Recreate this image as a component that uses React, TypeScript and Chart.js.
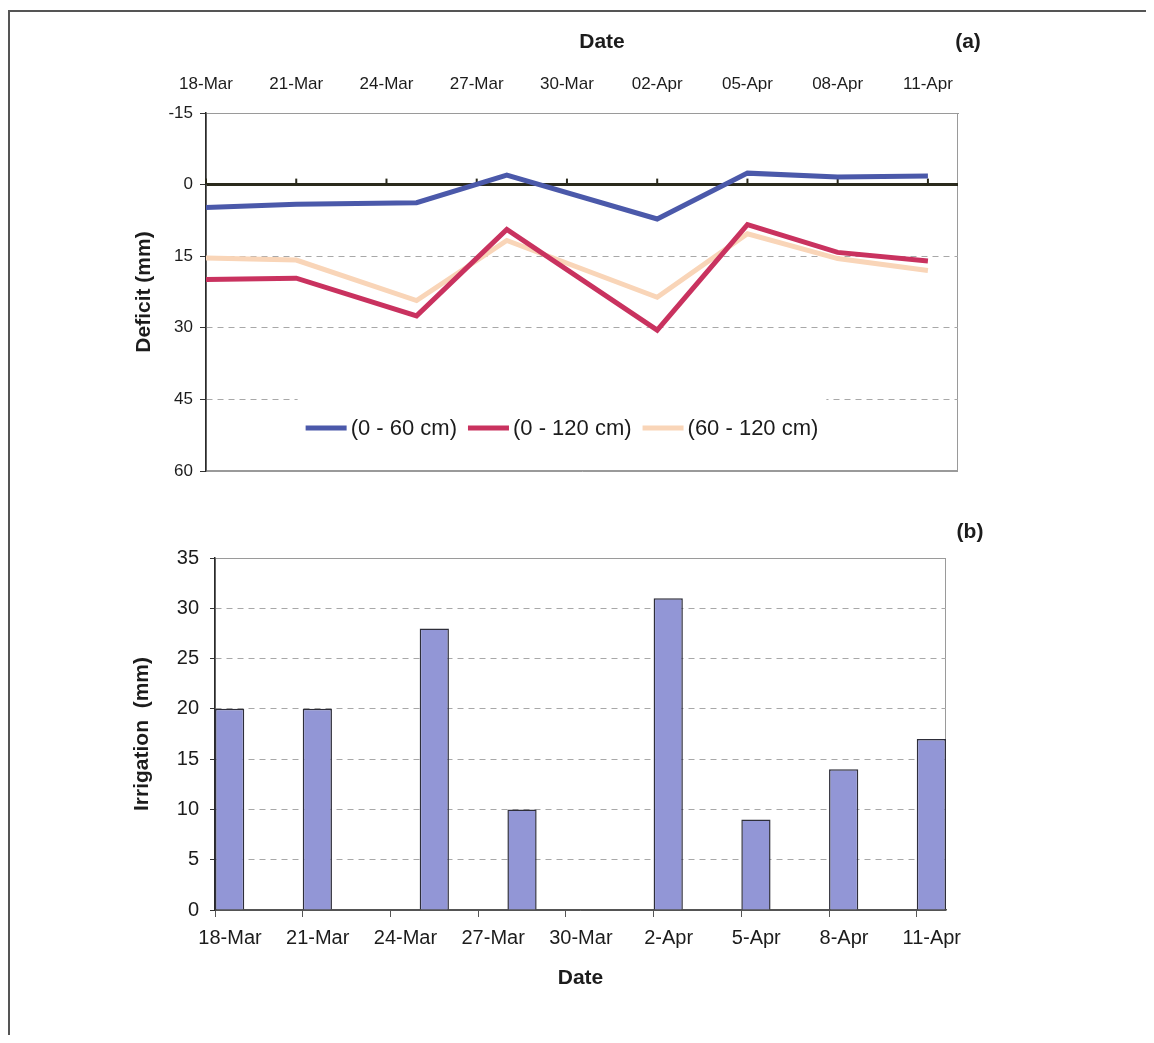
import React, { useEffect, useRef } from 'react';
import { Chart, registerables } from 'chart.js';

Chart.register(...registerables);

// ---------- data ----------
const axisStart = '18-Mar';
const axisEnd = '12-Apr';
const tickStepDays = 3;

const topTickLabels = ['18-Mar', '21-Mar', '24-Mar', '27-Mar', '30-Mar', '02-Apr', '05-Apr', '08-Apr', '11-Apr'];
const bottomTickLabels = ['18-Mar', '21-Mar', '24-Mar', '27-Mar', '30-Mar', '2-Apr', '5-Apr', '8-Apr', '11-Apr'];

const pointDates = ['18-Mar', '21-Mar', '25-Mar', '28-Mar', '02-Apr', '05-Apr', '08-Apr', '11-Apr'];
const deficit0to60 = [4.8, 4.1, 3.8, -2.0, 7.2, -2.4, -1.6, -1.8];
const deficit0to120 = [19.9, 19.6, 27.5, 9.4, 30.5, 8.4, 14.2, 16.0];
const deficit60to120 = [15.4, 15.8, 24.3, 11.7, 23.6, 10.3, 15.5, 18.0];

const seriesLabels = ['(0 - 60 cm)', '(0 - 120 cm)', '(60 - 120 cm)'];

const irrigationDates = ['18-Mar', '21-Mar', '25-Mar', '28-Mar', '02-Apr', '05-Apr', '08-Apr', '11-Apr'];
const irrigation = [20, 20, 28, 10, 31, 9, 14, 17];

// ---------- helpers ----------
const MONTHS = ['Jan', 'Feb', 'Mar', 'Apr', 'May', 'Jun', 'Jul', 'Aug', 'Sep', 'Oct', 'Nov', 'Dec'];
function toUTC(label: string) {
  const [d, m] = label.split('-');
  return Date.UTC(2001, MONTHS.indexOf(m), parseInt(d, 10));
}
function dayOffset(label: string) {
  return Math.round((toUTC(label) - toUTC(axisStart)) / 86400000);
}
function labelMap(labels: string[]) {
  const m: Record<number, string> = {};
  labels.forEach((l) => (m[dayOffset(l)] = l));
  return m;
}
const topLabelByDay = labelMap(topTickLabels);
const bottomLabelByDay = labelMap(bottomTickLabels);

const FONT = "'Liberation Sans', Arial, Helvetica, sans-serif";
const TEXT = '#1c1c1c';
const W = 1138;

// ---------- plugins ----------
const framePlugin = {
  id: 'frame',
  beforeDraw(chart: any, _a: any, opts: any) {
    const { ctx, chartArea: a } = chart;
    ctx.save();
    ctx.strokeStyle = opts.color || '#999';
    ctx.lineWidth = 1;
    ctx.strokeRect(a.left + 0.5, a.top + 0.5, a.right - a.left - 1, a.bottom - a.top - 1);
    ctx.restore();
  },
};

const zeroTicksPlugin = {
  id: 'zeroTicks',
  beforeDatasetsDraw(chart: any) {
    const { ctx } = chart;
    const xs = chart.scales.x;
    const ys = chart.scales.y;
    const y0 = ys.getPixelForValue(0);
    ctx.save();
    ctx.strokeStyle = '#2a2a1c';
    ctx.lineWidth = 2;
    xs.ticks.forEach((t: any) => {
      const px = xs.getPixelForValue(t.value);
      ctx.beginPath();
      ctx.moveTo(px, y0);
      ctx.lineTo(px, y0 - 6);
      ctx.stroke();
    });
    ctx.restore();
  },
};

const insideLegendPlugin = {
  id: 'insideLegend',
  beforeDatasetsDraw(chart: any, _a: any, o: any) {
    const { ctx, chartArea: a } = chart;
    ctx.save();
    ctx.font = o.font;
    const items = chart.data.datasets.map((ds: any) => ({
      label: ds.label,
      color: ds.borderColor,
      w: ctx.measureText(ds.label).width,
    }));
    const total =
      items.reduce((s: number, it: any) => s + o.sample + o.gap + it.w, 0) + o.spacing * (items.length - 1);
    const cx = (a.left + a.right) / 2 + o.offsetX;
    const cy = a.bottom - o.offsetBottom;
    let x = cx - total / 2;
    ctx.fillStyle = '#ffffff';
    ctx.fillRect(x - o.pad, cy - o.halfHeight, total + 2 * o.pad, 2 * o.halfHeight);
    ctx.textBaseline = 'middle';
    ctx.textAlign = 'left';
    items.forEach((it: any) => {
      ctx.strokeStyle = it.color;
      ctx.lineWidth = 5;
      ctx.beginPath();
      ctx.moveTo(x, cy);
      ctx.lineTo(x + o.sample, cy);
      ctx.stroke();
      x += o.sample + o.gap;
      ctx.fillStyle = TEXT;
      ctx.fillText(it.label, x, cy + 1);
      x += it.w + o.spacing;
    });
    ctx.restore();
  },
};

// ---------- charts ----------
function DeficitChart() {
  const ref = useRef<HTMLCanvasElement>(null);
  useEffect(() => {
    const toPts = (vals: number[]) => pointDates.map((d, i) => ({ x: dayOffset(d), y: vals[i] }));
    const chart = new Chart(ref.current as HTMLCanvasElement, {
      type: 'line',
      data: {
        datasets: [
          { label: seriesLabels[0], data: toPts(deficit0to60), borderColor: '#4b59aa', borderWidth: 5 },
          { label: seriesLabels[1], data: toPts(deficit0to120), borderColor: '#c9325f', borderWidth: 5 },
          { label: seriesLabels[2], data: toPts(deficit60to120), borderColor: '#f9d5b8', borderWidth: 5 },
        ],
      },
      options: {
        animation: false,
        responsive: false,
        devicePixelRatio: 1,
        layout: { padding: { top: 14, right: W - 950, bottom: 37, left: 0 } },
        elements: { point: { radius: 0 }, line: { tension: 0, borderJoinStyle: 'miter' } },
        plugins: {
          legend: { display: false },
          tooltip: { enabled: false },
          frame: { color: '#9a9a9a' },
          insideLegend: {
            font: `22px ${FONT}`,
            sample: 41,
            gap: 4,
            spacing: 11,
            pad: 8,
            halfHeight: 31,
            offsetX: -20,
            offsetBottom: 43,
          },
        } as any,
        scales: {
          x: {
            type: 'linear',
            position: 'top',
            min: dayOffset(axisStart),
            max: dayOffset(axisEnd),
            afterFit: (s: any) => {
              s.height = 91;
            },
            ticks: {
              stepSize: tickStepDays,
              includeBounds: false,
              autoSkip: false,
              maxRotation: 0,
              padding: 18,
              color: TEXT,
              font: { family: FONT, size: 17 },
              callback: (v: any) => topLabelByDay[v as number] ?? '',
            },
            grid: { display: false, drawTicks: false },
            border: { color: '#9a9a9a', width: 1 },
          },
          y: {
            type: 'linear',
            reverse: true,
            min: -15,
            max: 60,
            afterFit: (s: any) => {
              s.width = 198;
            },
            ticks: {
              stepSize: 15,
              padding: 7,
              color: TEXT,
              font: { family: FONT, size: 17 },
            },
            title: {
              display: true,
              text: 'Deficit (mm)',
              color: TEXT,
              font: { family: FONT, size: 21, weight: 'bold' },
              padding: { top: 124, bottom: 0 },
            },
            grid: {
              drawTicks: true,
              tickLength: 6,
              tickWidth: 1,
              tickColor: '#333',
              color: (c: any) => {
                const v = c.tick ? c.tick.value : null;
                if (v === 0) return '#2a2a1c';
                if (v === -15 || v === 60) return '#9a9a9a';
                return '#a8a8a8';
              },
              lineWidth: (c: any) => (c.tick && c.tick.value === 0 ? 3 : 1),
            },
            border: {
              color: '#2a2a2a',
              width: 1.5,
              dash: (c: any) => {
                const v = c.tick ? c.tick.value : null;
                return v === 15 || v === 30 || v === 45 ? [6, 5] : [];
              },
            },
          },
        },
      } as any,
      plugins: [framePlugin, zeroTicksPlugin, insideLegendPlugin],
    });
    return () => chart.destroy();
  }, []);
  return (
    <canvas
      ref={ref}
      width={W}
      height={500}
      style={{ position: 'absolute', left: 0, top: 0, width: W, height: 500, display: 'block' }}
    />
  );
}

function IrrigationChart() {
  const ref = useRef<HTMLCanvasElement>(null);
  useEffect(() => {
    const chart = new Chart(ref.current as HTMLCanvasElement, {
      type: 'bar',
      data: {
        datasets: [
          {
            label: 'Irrigation',
            data: irrigationDates.map((d, i) => ({ x: dayOffset(d) + 0.5, y: irrigation[i] })),
            backgroundColor: '#9296d6',
            borderColor: '#2e2e3a',
            borderWidth: 1.5,
            categoryPercentage: 1 / 3,
            barPercentage: 1,
          },
        ],
      },
      options: {
        animation: false,
        responsive: false,
        devicePixelRatio: 1,
        layout: { padding: { top: 50, right: W - 938, bottom: 42, left: 0 } },
        plugins: {
          legend: { display: false },
          tooltip: { enabled: false },
          frame: { color: '#9a9a9a' },
        } as any,
        scales: {
          x: {
            type: 'linear',
            position: 'bottom',
            offset: false,
            min: dayOffset(axisStart),
            max: dayOffset(axisEnd),
            afterFit: (s: any) => {
              s.height = 83;
            },
            ticks: {
              stepSize: tickStepDays,
              includeBounds: false,
              autoSkip: false,
              maxRotation: 0,
              padding: 9,
              labelOffset: 15,
              color: TEXT,
              font: { family: FONT, size: 20 },
              callback: (v: any) => bottomLabelByDay[v as number] ?? '',
            },
            title: {
              display: true,
              text: 'Date',
              color: TEXT,
              font: { family: FONT, size: 21, weight: 'bold' },
              padding: { top: 0, bottom: 2 },
            },
            grid: {
              offset: false,
              drawOnChartArea: false,
              drawTicks: true,
              tickLength: 7,
              tickColor: '#555',
              tickWidth: 1,
            },
            border: { color: '#555', width: 1.5 },
          },
          y: {
            type: 'linear',
            min: 0,
            max: 35,
            afterFit: (s: any) => {
              s.width = 207;
            },
            ticks: {
              stepSize: 5,
              padding: 11,
              color: TEXT,
              font: { family: FONT, size: 20 },
            },
            title: {
              display: true,
              text: 'Irrigation  (mm)',
              color: TEXT,
              font: { family: FONT, size: 21, weight: 'bold' },
              padding: { top: 122, bottom: 0 },
            },
            grid: {
              drawTicks: true,
              tickLength: 5,
              tickWidth: 1,
              tickColor: '#333',
              color: (c: any) => {
                const v = c.tick ? c.tick.value : null;
                if (v === 0) return '#555';
                if (v === 35) return '#9a9a9a';
                return '#a8a8a8';
              },
            },
            border: {
              color: '#2a2a2a',
              width: 1.5,
              dash: (c: any) => {
                const v = c.tick ? c.tick.value : null;
                return v !== null && v > 0 && v < 35 ? [6, 5] : [];
              },
            },
          },
        },
      } as any,
      plugins: [framePlugin],
    });
    return () => chart.destroy();
  }, []);
  return (
    <canvas
      ref={ref}
      width={W}
      height={527}
      style={{ position: 'absolute', left: 0, top: 500, width: W, height: 527, display: 'block' }}
    />
  );
}

const labelStyle: React.CSSProperties = {
  position: 'absolute',
  transform: 'translate(-50%, -50%)',
  fontFamily: FONT,
  fontWeight: 'bold',
  fontSize: 21,
  lineHeight: 1,
  color: TEXT,
  whiteSpace: 'nowrap',
};

export default function App() {
  return (
    <div style={{ position: 'relative', width: W, height: 1027, background: '#fff', overflow: 'hidden' }}>
      <div
        style={{
          position: 'absolute',
          left: 0,
          top: 2,
          right: -20,
          bottom: 0,
          borderLeft: '2px solid #555',
          borderTop: '2px solid #555',
        }}
      />
      <DeficitChart />
      <IrrigationChart />
      <div style={{ ...labelStyle, left: 594, top: 32 }}>Date</div>
      <div style={{ ...labelStyle, left: 960, top: 32 }}>(a)</div>
      <div style={{ ...labelStyle, left: 962, top: 522 }}>(b)</div>
    </div>
  );
}
